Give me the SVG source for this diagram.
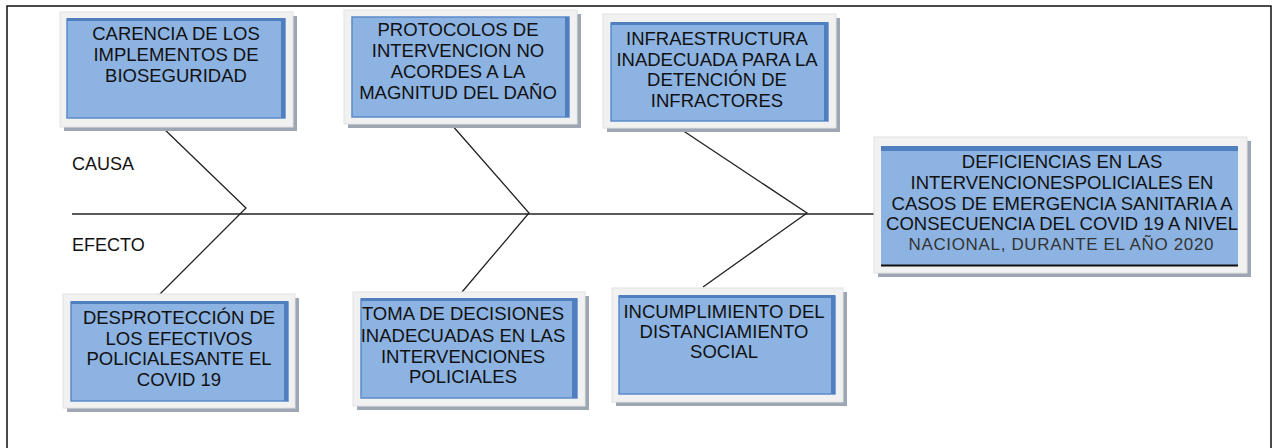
<svg xmlns="http://www.w3.org/2000/svg" width="1277" height="448" viewBox="0 0 1277 448">
<style>
.shadow{fill:#9da6b3}
.outer{fill:#f1f1f1;stroke:#e2e2e2;stroke-width:1}
.inner{fill:#8db3e2;stroke:#5b8bc9;stroke-width:1.5}
.band{fill:#4f7fbe}
.t{font-family:"Liberation Sans",Arial,sans-serif;font-size:18.5px;fill:#111;text-anchor:middle}
.lbl{font-family:"Liberation Sans",Arial,sans-serif;font-size:18px;fill:#111}
.ln{fill:none;stroke:#222;stroke-width:1.3}
</style>
<rect width="1277" height="448" fill="#fff"/>
<path d="M7,448 V6 H1271 V448" fill="none" stroke="#111" stroke-width="1.5"/>
<g id="labels">
<text class="lbl" x="72" y="170">CAUSA</text>
<text class="lbl" x="72" y="251">EFECTO</text>
</g>
<g id="connectors">
<line class="ln" x1="72" y1="214" x2="874" y2="214"/>
<polyline class="ln" points="161,126 246,208 160,294"/>
<polyline class="ln" points="451,124 529,213 462,292"/>
<polyline class="ln" points="679,128 807,213 703,287"/>
</g>
<g id="cause1">
<rect class="shadow" x="64" y="16" width="233" height="115"/>
<rect class="outer" x="60" y="12" width="233" height="115"/>
<rect class="inner" x="67" y="19" width="218" height="99"/>
<rect class="band" x="67" y="18" width="218" height="3"/>
<rect class="band" x="281" y="19" width="4" height="99"/>
<text class="t" x="176" y="40">CARENCIA DE LOS</text>
<text class="t" x="176" y="61">IMPLEMENTOS DE</text>
<text class="t" x="176" y="82">BIOSEGURIDAD</text>
</g>
<g id="cause2">
<rect class="shadow" x="348" y="14" width="233" height="114"/>
<rect class="outer" x="344" y="10" width="233" height="114"/>
<rect class="inner" x="352" y="17" width="217" height="100"/>
<rect class="band" x="565" y="17" width="4" height="100"/>
<text class="t" x="458" y="36">PROTOCOLOS DE</text>
<text class="t" x="458" y="57">INTERVENCION NO</text>
<text class="t" x="458" y="78">ACORDES A LA</text>
<text class="t" x="458" y="99">MAGNITUD DEL DAÑO</text>
</g>
<g id="cause3">
<rect class="shadow" x="607" y="18" width="233" height="114"/>
<rect class="outer" x="603" y="14" width="233" height="114"/>
<rect class="inner" x="611" y="23" width="217" height="98"/>
<rect class="band" x="611" y="22" width="217" height="3"/>
<rect class="band" x="824" y="23" width="4" height="98"/>
<text class="t" x="717" y="45">INFRAESTRUCTURA</text>
<text class="t" x="717" y="66">INADECUADA PARA LA</text>
<text class="t" x="717" y="86">DETENCIÓN DE</text>
<text class="t" x="717" y="107">INFRACTORES</text>
</g>
<g id="problem">
<rect class="shadow" x="878" y="141" width="373" height="136"/>
<rect class="outer" x="874" y="137" width="373" height="136"/>
<rect x="881" y="146" width="357" height="120" fill="#8db3e2"/>
<rect class="band" x="881" y="146" width="357" height="5"/>
<line x1="881" y1="265.5" x2="1238" y2="265.5" stroke="#111" stroke-width="2"/>
<text class="t" x="1062" y="168">DEFICIENCIAS EN LAS</text>
<text class="t" x="1062" y="189">INTERVENCIONESPOLICIALES EN</text>
<text class="t" x="1062" y="210">CASOS DE EMERGENCIA SANITARIA A</text>
<text class="t" x="1062" y="230">CONSECUENCIA DEL COVID 19 A NIVEL</text>
<text class="t" x="1061" y="250" style="fill:#333;font-size:17px" textLength="305" lengthAdjust="spacing">NACIONAL, DURANTE EL AÑO 2020</text>
</g>
<g id="effect1">
<rect class="shadow" x="67" y="298" width="232" height="114"/>
<rect class="outer" x="63" y="294" width="232" height="114"/>
<rect class="inner" x="71" y="302" width="217" height="99"/>
<rect class="band" x="71" y="301" width="217" height="3"/>
<rect class="band" x="284" y="302" width="4" height="99"/>
<text class="t" x="179" y="324">DESPROTECCIÓN DE</text>
<text class="t" x="179" y="345">LOS EFECTIVOS</text>
<text class="t" x="179" y="365">POLICIALESANTE EL</text>
<text class="t" x="179" y="386">COVID 19</text>
</g>
<g id="effect2">
<rect class="shadow" x="357" y="296" width="232" height="114"/>
<rect class="outer" x="353" y="292" width="232" height="114"/>
<rect class="inner" x="361" y="299" width="216" height="99"/>
<rect class="band" x="361" y="298" width="216" height="3"/>
<rect class="band" x="572" y="299" width="5" height="99"/>
<text class="t" x="463" y="320">TOMA DE DECISIONES</text>
<text class="t" x="463" y="342">INADECUADAS EN LAS</text>
<text class="t" x="463" y="363">INTERVENCIONES</text>
<text class="t" x="463" y="383">POLICIALES</text>
</g>
<g id="effect3">
<rect class="shadow" x="616" y="292" width="231" height="114"/>
<rect class="outer" x="612" y="288" width="231" height="114"/>
<rect class="inner" x="619" y="296" width="216" height="98"/>
<rect class="band" x="619" y="295" width="216" height="3"/>
<rect class="band" x="831" y="296" width="4" height="98"/>
<text class="t" x="724" y="318">INCUMPLIMIENTO DEL</text>
<text class="t" x="724" y="338">DISTANCIAMIENTO</text>
<text class="t" x="724" y="358">SOCIAL</text>
</g>
</svg>
